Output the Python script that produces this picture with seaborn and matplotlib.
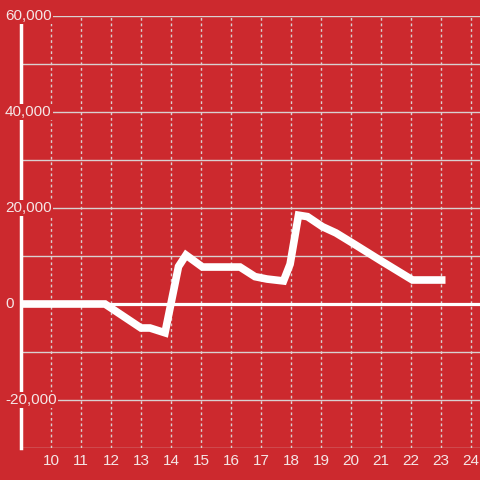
import numpy as np
import pandas as pd
import matplotlib
matplotlib.use('Agg')
import matplotlib.pyplot as plt
import seaborn as sns

hours = [9, 10, 11, 11.8, 13.0, 13.3, 13.8, 14.25, 14.5, 15.05, 16.3, 16.8, 17.2,
         17.75, 17.97, 18.25, 18.55, 19.05, 19.5, 20.05, 21.0, 22.05, 23.15]
values = [0, 0, 0, 0, -5000, -5000, -6000, 7800, 10200, 7700, 7700, 5700, 5200,
          4800, 8300, 18500, 18200, 16100, 14800, 12700, 9000, 5000, 5000]

x_ticks = list(range(10, 25))
y_labels = [-20000, 0, 20000, 40000, 60000]

bg = '#cc292e'
grid_col = '#d9d0d0'
txt_col = '#f5e6e6'

sns.set_style('white')
plt.rcParams['font.family'] = ['Liberation Sans', 'DejaVu Sans']

df = pd.DataFrame({'hour': hours, 'value': values})

fig = plt.figure(figsize=(4.8, 4.8), dpi=100, facecolor=bg)
ax = fig.add_axes([21/480, 32/480, 459/480, 432/480])
ax.set_facecolor(bg)

ax.set_xlim(9, 24.3)
ax.set_ylim(-30000, 60000)

# horizontal gridlines
for yv in range(-30000, 60001, 10000):
    if yv == 0:
        continue
    ax.axhline(yv, color=grid_col, lw=1, zorder=1)
# vertical dotted gridlines
for xv in x_ticks:
    ax.axvline(xv, color=grid_col, lw=1, ls=(0, (2, 2)), zorder=1)
ax.axhline(0, color='white', lw=2.3, zorder=2)

sns.lineplot(data=df, x='hour', y='value', ax=ax, color='white', lw=5.5,
             solid_joinstyle='miter', solid_capstyle='butt', zorder=3)

for s in ['top', 'right', 'bottom']:
    ax.spines[s].set_visible(False)
ax.spines['left'].set_color('white')
ax.spines['left'].set_linewidth(2.5)
ax.spines['left'].set_bounds(-30000, 58300)
ax.spines['left'].set_zorder(2)

ax.set_xticks(x_ticks)
ax.set_xticklabels([str(t) for t in x_ticks])
ax.set_yticks([])
ax.tick_params(axis='x', length=0, pad=4, labelsize=11, colors=txt_col)
ax.set_xlabel('')
ax.set_ylabel('')

for yv in y_labels:
    ax.text(-16/459*15.3 + 9, yv, f'{yv:,}', ha='left', va='center',
            fontsize=11, color=txt_col, zorder=5, clip_on=False,
            bbox=dict(facecolor=bg, edgecolor='none', pad=1))

fig.savefig('out.png', dpi=100, facecolor=bg)
